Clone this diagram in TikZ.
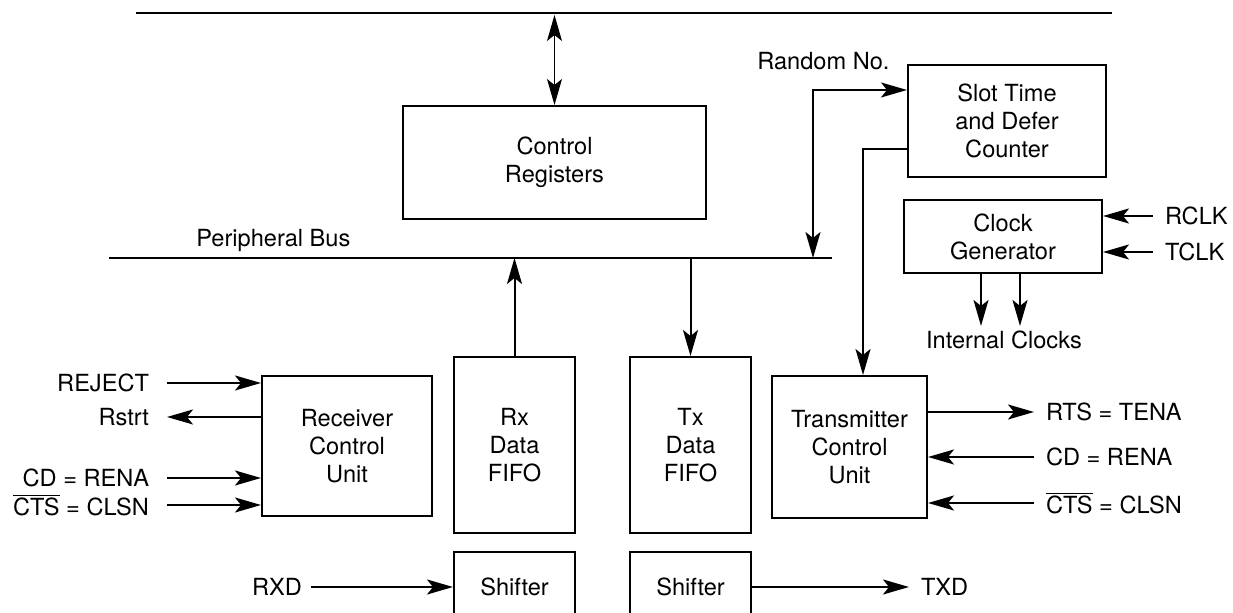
\documentclass[tikz,border=0pt]{standalone}
\usepackage{fontspec}
\setmainfont{TeX Gyre Heros}
\usetikzlibrary{arrows.meta}
\newcommand{\ovl}[1]{$\overline{\mbox{#1}}$}

\begin{document}
\begin{tikzpicture}[
    x=0.5pt, y=-0.5pt,
    font=\fontsize{11.8}{14}\selectfont,
    >={Stealth[length=13pt, width=7.5pt, inset=3pt]},
    block/.style={draw, line width=1pt, align=center, inner sep=0pt},
    flow/.style={->, line width=1pt},
    bus/.style={line width=1pt},
    sig/.style={inner sep=0pt, outer sep=6pt}
]
    \fill[white] (0,0) rectangle (1233,613);
    \useasboundingbox (0,0) rectangle (1233,613);

    % buses
    \coordinate (topL) at (136,13);
    \coordinate (topR) at (1112,13);
    \coordinate (busL) at (109,258);
    \coordinate (busR) at (832,258);
    \draw[bus] (topL) -- (topR);
    \draw[bus] (busL) -- (busR);
    \node[inner sep=0pt, anchor=base west] (pbus) at (196,247) {Peripheral Bus};

    \node[block, minimum width=151.5pt, minimum height=56.5pt] (ctrlreg) at (554.5,162.5) {Control\\Registers};
    \node[block, minimum width=99pt, minimum height=56pt] (slot) at (1007,121) {Slot Time\\and Defer\\Counter};
    \node[block, minimum width=99pt, minimum height=36.5pt] (clockgen) at (1003,236.5) {Clock\\Generator};

    \node[block, minimum width=85pt, minimum height=70pt] (rxctrl) at (347,446.5) {Receiver\\Control\\Unit};
    \node[block, minimum width=60.5pt, minimum height=88pt] (rxfifo) at (514.5,445) {Rx\\Data\\FIFO};
    \node[block, minimum width=60.5pt, minimum height=88pt] (txfifo) at (690.5,445) {Tx\\Data\\FIFO};
    \node[block, minimum width=77.5pt, minimum height=71pt] (txctrl) at (849.5,447) {Transmitter\\Control\\Unit};

    \node[block, minimum width=60.5pt, minimum height=35pt] (rxshift) at (514.5,587) {Shifter};
    \node[block, minimum width=60.5pt, minimum height=35pt] (txshift) at (690.5,587) {Shifter};

    \draw[<->, line width=0.5pt, shorten <=1pt] (ctrlreg.north |- topL) -- (ctrlreg.north);
    \draw[flow] (rxfifo.north) -- (rxfifo.north |- busL);
    \draw[flow] (txfifo.north |- busL) -- (txfifo.north);

    % slot time counter
    \node[inner sep=0pt, anchor=base west] (rndno) at (757,70) {Random No.};
    \coordinate (rnd) at (813,90);
    \draw[<->, line width=1pt] (rnd |- busL) -- (rnd) -- (rnd -| slot.west);
    \coordinate (cnt) at (863,149);
    \draw[flow] (cnt -| slot.west) -- (cnt) -- (cnt |- txctrl.north);

    % clocks
    \node[sig, anchor=west] (rclk) at (1153,216) {RCLK};
    \node[sig, anchor=west] (tclk) at (1153,252) {TCLK};
    \draw[flow] (rclk.west) -- (rclk.west -| clockgen.east);
    \draw[flow] (tclk.west) -- (tclk.west -| clockgen.east);
    \node[inner sep=0pt, outer sep=2.5pt] (intclk) at (1004,340) {Internal Clocks};
    \draw[flow] ([xshift=-11pt]clockgen.south) -- ([xshift=-11pt]clockgen.south |- intclk.north);
    \draw[flow] ([xshift=8.5pt]clockgen.south) -- ([xshift=8.5pt]clockgen.south |- intclk.north);

    % receiver side
    \node[sig, anchor=east, outer sep=9pt] (reject) at (167,383) {REJECT};
    \node[sig, anchor=east, outer sep=9pt] (rstrt) at (167,417) {Rstrt};
    \node[sig, anchor=east, outer sep=9pt] (cdl) at (167,478) {CD = RENA};
    \node[sig, anchor=east, outer sep=9pt] (ctsl) at (167,505) {\ovl{CTS} = CLSN};
    \draw[flow] (reject.east) -- (reject.east -| rxctrl.west);
    \draw[flow] (rstrt.east -| rxctrl.west) -- (rstrt.east);
    \draw[flow] (cdl.east) -- (cdl.east -| rxctrl.west);
    \draw[flow] (ctsl.east) -- (ctsl.east -| rxctrl.west);
    \node[sig, anchor=east, outer sep=4.5pt] (rxd) at (311,587) {RXD};
    \draw[flow] (rxd.east) -- (rxshift.west);

    % transmitter side
    \node[sig, anchor=west] (rts) at (1034,412) {RTS = TENA};
    \node[sig, anchor=west] (cdr) at (1034,457) {CD = RENA};
    \node[sig, anchor=west] (ctsr) at (1034,503) {\ovl{CTS} = CLSN};
    \draw[flow] (rts.west -| txctrl.east) -- (rts.west);
    \draw[flow] (cdr.west) -- (cdr.west -| txctrl.east);
    \draw[flow] (ctsr.west) -- (ctsr.west -| txctrl.east);
    \node[sig, anchor=west] (txd) at (909,587) {TXD};
    \draw[flow] (txshift.east) -- (txd.west);
\end{tikzpicture}
\end{document}
